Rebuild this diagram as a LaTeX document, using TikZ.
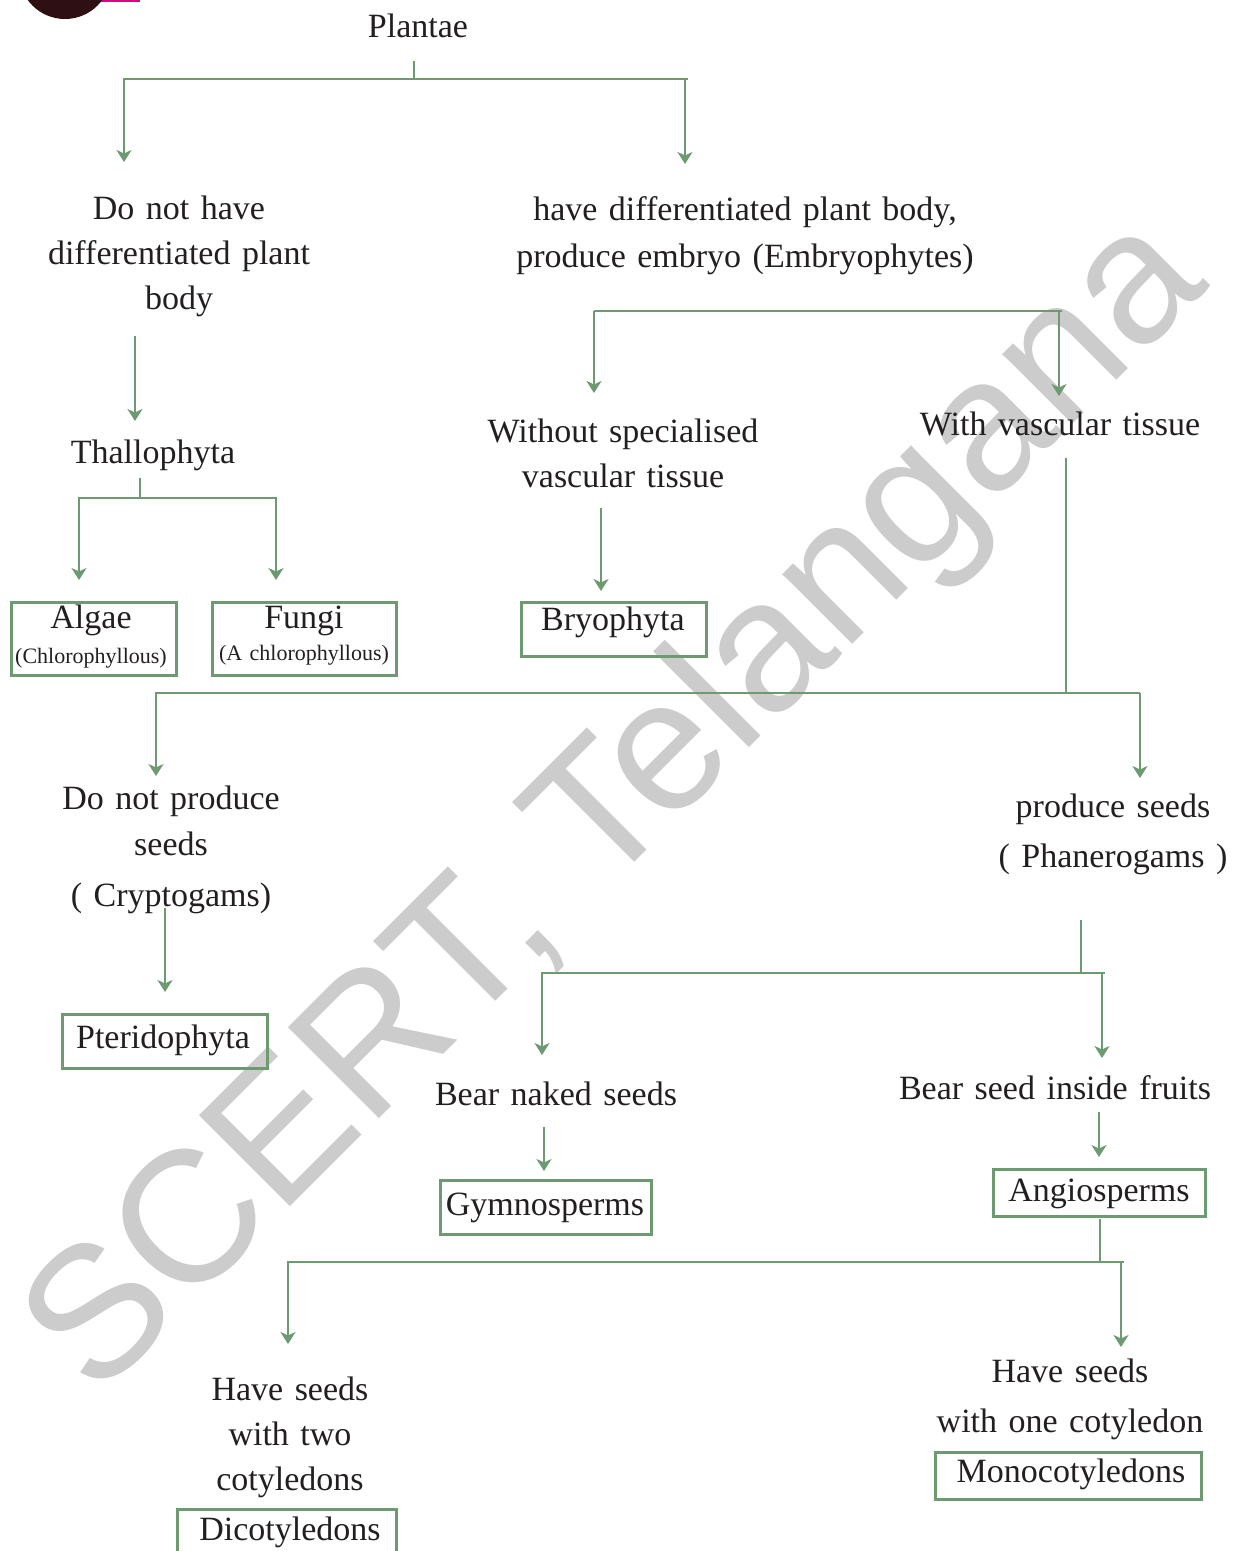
\documentclass[tikz,border=0pt]{standalone}
\usepackage{fontspec}
\setmainfont[WordSpace=1.35]{Liberation Serif}
\newfontfamily\wmfont{Liberation Sans}
\usetikzlibrary{arrows.meta}
\definecolor{lgreen}{HTML}{6E9A72}
\definecolor{ink}{HTML}{231F20}
\definecolor{wmgray}{HTML}{CCCCCC}
\definecolor{discdark}{HTML}{2D0F14}
\definecolor{discpink}{HTML}{E6007E}
\tikzset{
  txt/.style={inner sep=0pt, anchor=base, text=ink, font=\fontsize{34}{40}\selectfont},
  small/.style={inner sep=0pt, anchor=base, text=ink, font=\fontsize{22}{26}\selectfont},
  boxshape/.style={draw=lgreen, line width=3pt, inner sep=0pt},
  link/.style={draw=lgreen, line width=2.6pt},
  arr/.style={draw=lgreen, line width=2.6pt, -{Stealth[length=12pt,width=15pt,inset=3.5pt]}},
}
\begin{document}
\begin{tikzpicture}[x=1pt,y=-1pt]
\useasboundingbox (0,0) rectangle (1234,1551);
\fill[white] (0,0) rectangle (1234,1551);
% corner decoration
\begin{scope}
\clip (0,0) rectangle (1234,1551);
\fill[discpink] (100,0) rectangle (140,2);
\fill[discdark] (65,-27) circle (46);
\end{scope}
% watermark
\node[inner sep=0pt, anchor=base west, rotate=45, text=wmgray, font=\wmfont\fontsize{187}{200}\selectfont] (wm) at (96,1401) {SCERT, Telangana};

% ---------- text nodes ----------
\node[txt] (plantae) at (418,37) {Plantae};
\node[txt] (dnh1) at (179,219) {Do not have};
\node[txt] (dnh2) at (179,264) {differentiated plant};
\node[txt] (dnh3) at (179,309) {body};
\node[txt] (thal) at (153,463) {Thallophyta};
\node[txt] (emb1) at (745,220) {have differentiated plant body,};
\node[txt] (emb2) at (745,267) {produce embryo (Embryophytes)};
\node[txt] (wo1) at (623,442) {Without specialised};
\node[txt] (wo2) at (623,487) {vascular tissue};
\node[txt] (wv) at (1060,435) {With vascular tissue};
\node[txt] (algaeT) at (91,628) {Algae};
\node[small] (algaeS) at (91,663) {(Chlorophyllous)};
\node[txt] (fungiT) at (304,628) {Fungi};
\node[small] (fungiS) at (304,660) {(A chlorophyllous)};
\node[txt] (bryoT) at (613,630) {Bryophyta};
\node[txt] (dnp1) at (171,809) {Do not produce};
\node[txt] (dnp2) at (171,855) {seeds};
\node[txt] (dnp3) at (171,906) {( Cryptogams)};
\node[txt] (pterT) at (163,1048) {Pteridophyta};
\node[txt] (ps1) at (1113,817) {produce seeds};
\node[txt] (ps2) at (1113,867) {( Phanerogams )};
\node[txt] (bns) at (556,1105) {Bear naked seeds};
\node[txt] (gymT) at (545,1215) {Gymnosperms};
\node[txt] (bsf) at (1055,1099) {Bear seed inside fruits};
\node[txt] (angT) at (1099,1201) {Angiosperms};
\node[txt] (di1) at (290,1400) {Have seeds};
\node[txt] (di2) at (290,1445) {with two};
\node[txt] (di3) at (290,1490) {cotyledons};
\node[txt] (dicT) at (290,1540) {Dicotyledons};
\node[txt] (mo1) at (1070,1382) {Have seeds};
\node[txt] (mo2) at (1070,1432) {with one cotyledon};
\node[txt] (monT) at (1071,1482) {Monocotyledons};

% ---------- boxes ----------
\node[boxshape, minimum width=165, minimum height=73] (algae) at (93.5,638.5) {};
\node[boxshape, minimum width=184, minimum height=73] (fungi) at (304,638.5) {};
\node[boxshape, minimum width=185, minimum height=54] (bryo) at (613.5,629) {};
\node[boxshape, minimum width=205, minimum height=54] (pter) at (164.5,1041) {};
\node[boxshape, minimum width=211, minimum height=54] (gym) at (545.5,1207) {};
\node[boxshape, minimum width=212, minimum height=47] (ang) at (1099,1192.5) {};
\node[boxshape, minimum width=266, minimum height=47] (mon) at (1068,1475.5) {};
\node[boxshape, minimum width=219, minimum height=52] (dic) at (286.5,1535) {};

% ---------- connector points ----------
\coordinate (p0) at (414,61);  \coordinate (p1) at (414,79);
\coordinate (p1l) at (123,79); \coordinate (p1r) at (688,79);
\coordinate (p2a) at (124,79); \coordinate (p2b) at (124,162);
\coordinate (p3a) at (685,79); \coordinate (p3b) at (685,164);
\coordinate (t0) at (135,336); \coordinate (t1) at (135,421);
\coordinate (h0) at (140,478); \coordinate (h1) at (140,498);
\coordinate (h1l) at (78,498); \coordinate (h1r) at (277,498);
\coordinate (h2a) at (79,498); \coordinate (h2b) at (79,580);
\coordinate (h3a) at (276,498); \coordinate (h3b) at (276,580);
\coordinate (e1l) at (594,311); \coordinate (e1r) at (1062,311);
\coordinate (e2a) at (594,311); \coordinate (e2b) at (594,393);
\coordinate (e3a) at (1059,311); \coordinate (e3b) at (1059,396);
\coordinate (b0) at (601,508); \coordinate (b1) at (601,591);
\coordinate (v0) at (1066,458); \coordinate (v1) at (1066,693);
\coordinate (v1l) at (155,693); \coordinate (v1r) at (1140,693);
\coordinate (v2a) at (156,693); \coordinate (v2b) at (156,776);
\coordinate (v3a) at (1140,693); \coordinate (v3b) at (1140,778);
\coordinate (c0) at (165,908); \coordinate (c1) at (165,992);
\coordinate (s0) at (1081,920); \coordinate (s1) at (1081,973);
\coordinate (s1l) at (541,973); \coordinate (s1r) at (1105,973);
\coordinate (s2a) at (542,973); \coordinate (s2b) at (542,1055);
\coordinate (s3a) at (1102,973); \coordinate (s3b) at (1102,1058);
\coordinate (g0) at (544,1127); \coordinate (g1) at (544,1171);
\coordinate (a0) at (1099,1112); \coordinate (a1) at (1099,1157);
\coordinate (m0) at (1100,1219); \coordinate (m1) at (1100,1262);
\coordinate (m1l) at (287,1262); \coordinate (m1r) at (1124,1262);
\coordinate (m2a) at (288,1262); \coordinate (m2b) at (288,1344);
\coordinate (m3a) at (1121,1262); \coordinate (m3b) at (1121,1347);

% ---------- connectors ----------
\draw[link] (p0) -- (p1);
\draw[link] (p1l) -- (p1r);
\draw[arr] (p2a) -- (p2b);
\draw[arr] (p3a) -- (p3b);
\draw[arr] (t0) -- (t1);
\draw[link] (h0) -- (h1);
\draw[link] (h1l) -- (h1r);
\draw[arr] (h2a) -- (h2b);
\draw[arr] (h3a) -- (h3b);
\draw[link] (e1l) -- (e1r);
\draw[arr] (e2a) -- (e2b);
\draw[arr] (e3a) -- (e3b);
\draw[arr] (b0) -- (b1);
\draw[link] (v0) -- (v1);
\draw[link] (v1l) -- (v1r);
\draw[arr] (v2a) -- (v2b);
\draw[arr] (v3a) -- (v3b);
\draw[arr] (c0) -- (c1);
\draw[link] (s0) -- (s1);
\draw[link] (s1l) -- (s1r);
\draw[arr] (s2a) -- (s2b);
\draw[arr] (s3a) -- (s3b);
\draw[arr] (g0) -- (g1);
\draw[arr] (a0) -- (a1);
\draw[link] (m0) -- (m1);
\draw[link] (m1l) -- (m1r);
\draw[arr] (m2a) -- (m2b);
\draw[arr] (m3a) -- (m3b);
\end{tikzpicture}
\end{document}
